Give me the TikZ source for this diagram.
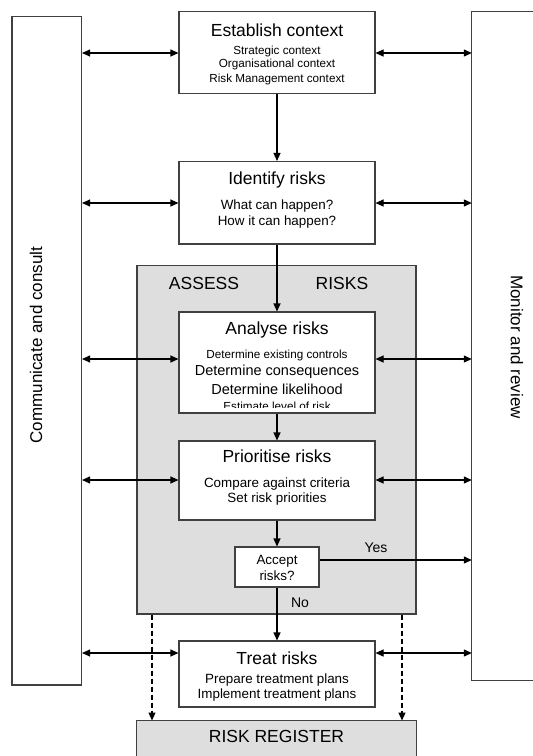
\documentclass[tikz,border=0pt]{standalone}
\usepackage{fontspec}
\setmainfont{Liberation Sans}
\usetikzlibrary{arrows.meta}
\definecolor{linec}{HTML}{404040}
\definecolor{greyfill}{HTML}{DEDEDE}
\begin{document}
\begin{tikzpicture}[x=1pt,y=-1pt,
  box/.style={draw=linec, line width=1.1pt, fill=white, inner sep=0pt, rectangle},
  ttl/.style={inner sep=0pt, font=\fontsize{17.5}{20}\selectfont},
  sa/.style={inner sep=0pt, font=\fontsize{11.7}{14}\selectfont},
  sb/.style={inner sep=0pt, font=\fontsize{13.4}{16}\selectfont},
  sc/.style={inner sep=0pt, font=\fontsize{14.5}{17}\selectfont},
  tip/.tip={Triangle[length=8pt,width=7pt]},
  arr/.style={draw=black, line width=1.1pt, -tip},
  darr/.style={draw=black, line width=1.1pt, tip-tip},
  dsh/.style={arr, dash pattern=on 5pt off 3pt}]
\useasboundingbox (0,0) rectangle (533,756);

% side boxes
\node[box, minimum width=69.5pt, minimum height=668.7pt] (comm) at (46.75,350.65) {};
\node[inner sep=0pt, font=\fontsize{17}{20}\selectfont, rotate=90] (commt) at (36,345) {Communicate and consult};
\node[inner sep=0pt, minimum width=61pt, minimum height=668.5pt] (mon) at (502.5,345.75) {};
\draw[draw=linec, line width=1.1pt] (mon.north east) -- (mon.north west) -- (mon.south west) -- (mon.south east);
\node[inner sep=0pt, font=\fontsize{17}{20}\selectfont, rotate=-90] (mont) at (517,347) {Monitor and review};

% assess container
\node[box, fill=greyfill, minimum width=279pt, minimum height=348.3pt] (assess) at (276.5,439.85) {};
\node[ttl] (asst) at (204,283) {ASSESS};
\node[ttl] (rist) at (342,283) {RISKS};

% risk register
\node[inner sep=0pt, fill=greyfill, minimum width=279pt, minimum height=35.3pt] (reg) at (276.5,738.35) {};
\draw[draw=linec, line width=1.1pt] (reg.south west) -- (reg.north west) -- (reg.north east) -- (reg.south east);
\node[ttl] (regt) at (276.5,736.7) {RISK REGISTER};

% establish context
\node[box, minimum width=196pt, minimum height=82pt] (est) at (277,52.5) {};
\node[ttl] (est1) at (277,30) {Establish context};
\node[sa] (est2) at (277,51.7) {Strategic context};
\node[sa] (est3) at (277,64.9) {Organisational context};
\node[sa] (est4) at (277,79) {Risk Management context};

% identify risks
\node[box, minimum width=196pt, minimum height=82.5pt] (ident) at (277,202.75) {};
\node[ttl] (id1) at (277,180) {Identify risks};
\node[sb] (id2) at (277,206) {What can happen?};
\node[sb] (id3) at (277,222) {How it can happen?};

% analyse risks
\node[box, minimum width=196pt, minimum height=101pt] (analyse) at (277,362.5) {};
\node[ttl] (an1) at (277,330) {Analyse risks};
\node[sa] (an2) at (277,355.7) {Determine existing controls};
\node[sc] (an3) at (277,371.7) {Determine consequences};
\node[sc] (an4) at (277,389.3) {Determine likelihood};
\begin{scope}
\clip (180,313) rectangle (374,407.5);
\node[sa, anchor=base] (an5) at (277,410) {Estimate level of risk};
\end{scope}

% prioritise risks
\node[box, minimum width=196pt, minimum height=79pt] (prio) at (277,480.5) {};
\node[ttl] (pr1) at (277,456.7) {Prioritise risks};
\node[sb] (pr2) at (277,484) {Compare against criteria};
\node[sb] (pr3) at (277,499.3) {Set risk priorities};

% accept risks
\node[box, minimum width=84pt, minimum height=40pt] (accept) at (277,567) {};
\node[sb] (ac1) at (277,561) {Accept};
\node[sb] (ac2) at (277,576) {risks?};

% treat risks
\node[box, minimum width=196pt, minimum height=66pt] (treat) at (277,674) {};
\node[ttl] (tr1) at (277,658) {Treat risks};
\node[sb] (tr2) at (277,680) {Prepare treatment plans};
\node[sb] (tr3) at (277,695) {Implement treatment plans};

% labels
\node[inner sep=0pt, font=\fontsize{14}{16}\selectfont] (yes) at (376,548) {Yes};
\node[inner sep=0pt, font=\fontsize{14}{16}\selectfont] (no) at (300,603) {No};

% level coordinates
\coordinate (ey) at (0,53);
\coordinate (iy) at (0,203);
\coordinate (ay) at (0,359);
\coordinate (py) at (0,480);
\coordinate (yy) at (0,560);
\coordinate (ty) at (0,653);
\coordinate (d1) at (152,0);
\coordinate (d2) at (402,0);

% side arrows
\draw[darr] (comm.east |- ey) -- (est.west |- ey);
\draw[darr] (est.east |- ey) -- (mon.west |- ey);
\draw[darr] (comm.east |- iy) -- (ident.west |- iy);
\draw[darr] (ident.east |- iy) -- (mon.west |- iy);
\draw[darr] (comm.east |- ay) -- (analyse.west |- ay);
\draw[darr] (analyse.east |- ay) -- (mon.west |- ay);
\draw[darr] (comm.east |- py) -- (prio.west |- py);
\draw[darr] (prio.east |- py) -- (mon.west |- py);
\draw[darr] (comm.east |- ty) -- (treat.west |- ty);
\draw[darr] (treat.east |- ty) -- (mon.west |- ty);
\draw[arr] (accept.east |- yy) -- (mon.west |- yy);

% vertical flow
\draw[arr] (est.south) -- (ident.north);
\draw[arr] (ident.south) -- (analyse.north);
\draw[arr] (analyse.south) -- (prio.north);
\draw[arr] (prio.south) -- (accept.north);
\draw[arr] (accept.south) -- (treat.north);

% dashed to register
\draw[dsh] (assess.south -| d1) -- (reg.north -| d1);
\draw[dsh] (assess.south -| d2) -- (reg.north -| d2);
\end{tikzpicture}
\end{document}
